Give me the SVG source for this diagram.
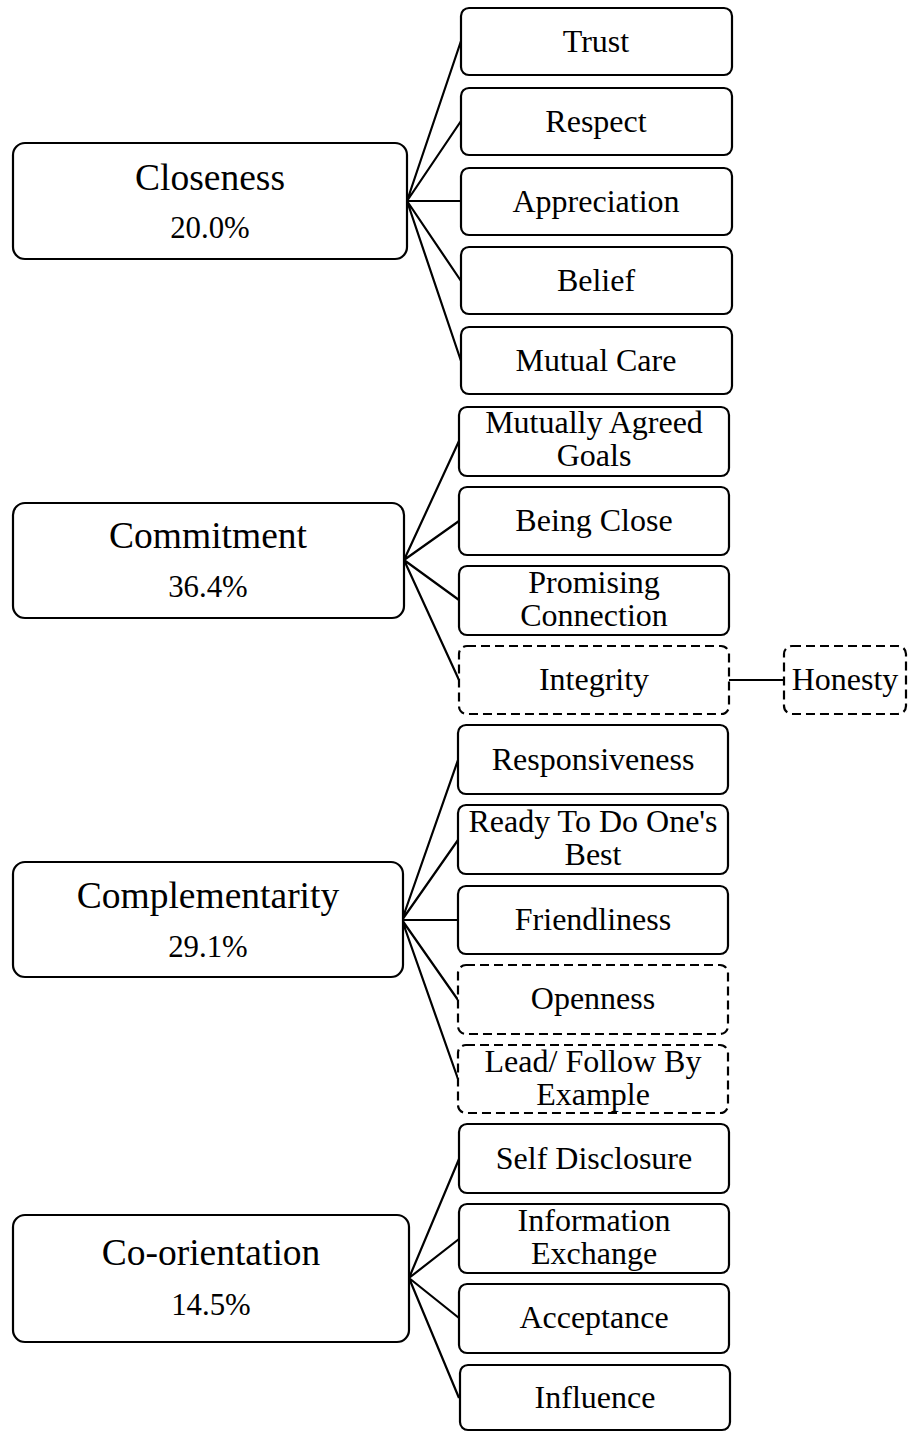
<svg xmlns="http://www.w3.org/2000/svg" width="908" height="1432" viewBox="0 0 908 1432">
  <style>
    .box { fill: #ffffff; stroke: #000000; stroke-width: 2.2; }
    .dash { stroke-dasharray: 9 5; }
    .link { stroke: #000000; stroke-width: 2.2; fill: none; }
    text { font-family: "Liberation Serif", "Times New Roman", serif; fill: #000000; text-anchor: middle; }
    .head { font-size: 37.5px; }
    .pct { font-size: 30.8px; }
    .leaf { font-size: 32px; }
  </style>
  <rect width="908" height="1432" fill="#ffffff"/>

  <!-- connectors: each parent fans out from one point on its right edge -->
  <g id="connectors">
    <path class="link" d="M407 201 L461 41 M407 201 L461 121 M407 201 L461 201 M407 201 L461 281 M407 201 L461 361"/>
    <path class="link" d="M404 560 L459 441 M404 560 L459 521 M404 560 L459 600 M404 560 L459 680"/>
    <path class="link" d="M729 680 L784 680"/>
    <path class="link" d="M402 920 L458 760 M402 920 L458 840 M402 920 L458 920 M402 920 L458 1000 M402 920 L458 1079"/>
    <path class="link" d="M409 1278 L459 1159 M409 1278 L459 1239 M409 1278 L459 1318 M409 1278 L459 1398"/>
  </g>

  <!-- Closeness -->
  <g id="closeness">
    <rect class="box" x="13" y="143" width="394" height="116" rx="12"/>
    <text class="head" x="210" y="190">Closeness</text>
    <text class="pct" x="210" y="238">20.0%</text>
  </g>
  <g id="trust">
    <rect class="box" x="461" y="8" width="271" height="67" rx="8"/>
    <text class="leaf" x="596" y="52">Trust</text>
  </g>
  <g id="respect">
    <rect class="box" x="461" y="88" width="271" height="67" rx="8"/>
    <text class="leaf" x="596" y="132">Respect</text>
  </g>
  <g id="appreciation">
    <rect class="box" x="461" y="168" width="271" height="67" rx="8"/>
    <text class="leaf" x="596" y="212">Appreciation</text>
  </g>
  <g id="belief">
    <rect class="box" x="461" y="247" width="271" height="67" rx="8"/>
    <text class="leaf" x="596" y="291">Belief</text>
  </g>
  <g id="mutual-care">
    <rect class="box" x="461" y="327" width="271" height="67" rx="8"/>
    <text class="leaf" x="596" y="371">Mutual Care</text>
  </g>

  <!-- Commitment -->
  <g id="commitment">
    <rect class="box" x="13" y="503" width="391" height="115" rx="12"/>
    <text class="head" x="208" y="548">Commitment</text>
    <text class="pct" x="208" y="597">36.4%</text>
  </g>
  <g id="mutually-agreed-goals">
    <rect class="box" x="459" y="407" width="270" height="69" rx="8"/>
    <text class="leaf" x="594" y="433">Mutually Agreed</text>
    <text class="leaf" x="594" y="466">Goals</text>
  </g>
  <g id="being-close">
    <rect class="box" x="459" y="487" width="270" height="68" rx="8"/>
    <text class="leaf" x="594" y="531">Being Close</text>
  </g>
  <g id="promising-connection">
    <rect class="box" x="459" y="566" width="270" height="69" rx="8"/>
    <text class="leaf" x="594" y="593">Promising</text>
    <text class="leaf" x="594" y="626">Connection</text>
  </g>
  <g id="integrity">
    <rect class="box dash" x="459" y="646" width="270" height="68" rx="8"/>
    <text class="leaf" x="594" y="690">Integrity</text>
  </g>
  <g id="honesty">
    <rect class="box dash" x="784" y="646" width="122" height="68" rx="8"/>
    <text class="leaf" x="845" y="690">Honesty</text>
  </g>

  <!-- Complementarity -->
  <g id="complementarity">
    <rect class="box" x="13" y="862" width="390" height="115" rx="12"/>
    <text class="head" x="208" y="908">Complementarity</text>
    <text class="pct" x="208" y="957">29.1%</text>
  </g>
  <g id="responsiveness">
    <rect class="box" x="458" y="725" width="270" height="69" rx="8"/>
    <text class="leaf" x="593" y="770">Responsiveness</text>
  </g>
  <g id="ready-to-do-ones-best">
    <rect class="box" x="458" y="805" width="270" height="69" rx="8"/>
    <text class="leaf" x="593" y="832">Ready To Do One's</text>
    <text class="leaf" x="593" y="865">Best</text>
  </g>
  <g id="friendliness">
    <rect class="box" x="458" y="886" width="270" height="68" rx="8"/>
    <text class="leaf" x="593" y="930">Friendliness</text>
  </g>
  <g id="openness">
    <rect class="box dash" x="458" y="965" width="270" height="69" rx="8"/>
    <text class="leaf" x="593" y="1009">Openness</text>
  </g>
  <g id="lead-follow-by-example">
    <rect class="box dash" x="458" y="1045" width="270" height="68" rx="8"/>
    <text class="leaf" x="593" y="1072">Lead/ Follow By</text>
    <text class="leaf" x="593" y="1105">Example</text>
  </g>

  <!-- Co-orientation -->
  <g id="co-orientation">
    <rect class="box" x="13" y="1215" width="396" height="127" rx="12"/>
    <text class="head" x="211" y="1265">Co-orientation</text>
    <text class="pct" x="211" y="1315">14.5%</text>
  </g>
  <g id="self-disclosure">
    <rect class="box" x="459" y="1124" width="270" height="69" rx="8"/>
    <text class="leaf" x="594" y="1169">Self Disclosure</text>
  </g>
  <g id="information-exchange">
    <rect class="box" x="459" y="1204" width="270" height="69" rx="8"/>
    <text class="leaf" x="594" y="1231">Information</text>
    <text class="leaf" x="594" y="1264">Exchange</text>
  </g>
  <g id="acceptance">
    <rect class="box" x="459" y="1284" width="270" height="69" rx="8"/>
    <text class="leaf" x="594" y="1328">Acceptance</text>
  </g>
  <g id="influence">
    <rect class="box" x="460" y="1365" width="270" height="65" rx="8"/>
    <text class="leaf" x="595" y="1408">Influence</text>
  </g>
</svg>
